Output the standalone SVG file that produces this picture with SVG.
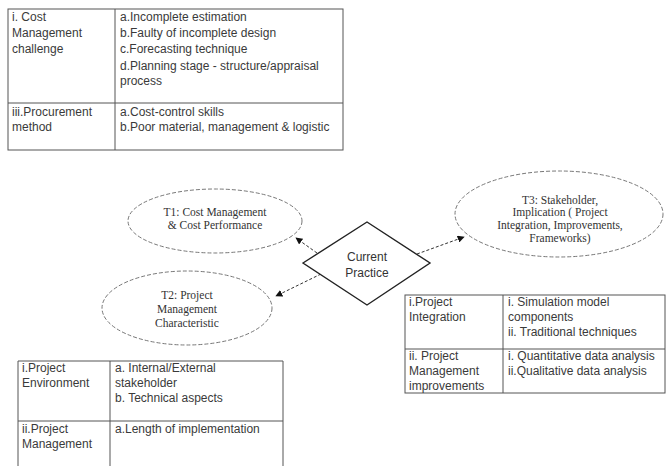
<svg xmlns="http://www.w3.org/2000/svg" width="672" height="466" viewBox="0 0 672 466">
  <defs>
    <marker id="arr" viewBox="0 0 10 10" refX="9" refY="5" markerWidth="7" markerHeight="7" orient="auto" markerUnits="userSpaceOnUse">
      <path d="M0,0 L10,5 L0,10 z" fill="#111"/>
    </marker>
    <style>
      .tbl { fill: none; stroke: #555; stroke-width: 1; }
      .tline { stroke: #555; stroke-width: 1; }
      .t { font-family: "Liberation Sans", Arial, sans-serif; font-size: 12px; fill: #3a3a3a; }
      .s { font-family: "Liberation Serif", "Times New Roman", serif; font-size: 11.5px; fill: #333; text-anchor: middle; }
      .ell { fill: #fff; stroke: #777; stroke-width: 1; stroke-dasharray: 4 2; }
      .dia { fill: #fff; stroke: #222; stroke-width: 1.4; }
      .conn { stroke: #333; stroke-width: 1; stroke-dasharray: 3 2; fill: none; }
      .c { font-family: "Liberation Sans", Arial, sans-serif; font-size: 12px; fill: #333; text-anchor: middle; }
    </style>
  </defs>
  <rect width="672" height="466" fill="#fff"/>

  <g id="table-cost">
    <rect class="tbl" x="8" y="9" width="335" height="141"/>
    <line class="tline" x1="115" y1="9" x2="115" y2="150"/>
    <line class="tline" x1="8" y1="103" x2="343" y2="103"/>
    <text class="t" x="12" y="21">i. Cost</text>
    <text class="t" x="12" y="37">Management</text>
    <text class="t" x="12" y="53">challenge</text>
    <text class="t" x="120" y="21">a.Incomplete estimation</text>
    <text class="t" x="120" y="37">b.Faulty of incomplete design</text>
    <text class="t" x="120" y="53">c.Forecasting technique</text>
    <text class="t" x="120" y="70">d.Planning stage - structure/appraisal</text>
    <text class="t" x="120" y="85">process</text>
    <text class="t" x="12" y="116">iii.Procurement</text>
    <text class="t" x="12" y="131">method</text>
    <text class="t" x="120" y="116">a.Cost-control skills</text>
    <text class="t" x="120" y="131">b.Poor material, management &amp; logistic</text>
  </g>

  <g id="connectors">
    <line class="conn" x1="317" y1="253" x2="296" y2="238" marker-end="url(#arr)"/>
    <line class="conn" x1="321" y1="274" x2="276" y2="296" marker-end="url(#arr)"/>
    <line class="conn" x1="417" y1="254" x2="464" y2="237" marker-end="url(#arr)"/>
  </g>

  <g id="t1">
    <ellipse class="ell" cx="215" cy="221" rx="87" ry="32"/>
    <text class="s" x="215" y="216">T1: Cost Management</text>
    <text class="s" x="215" y="229">&amp; Cost Performance</text>
  </g>

  <g id="t2">
    <ellipse class="ell" cx="187" cy="308" rx="85" ry="37"/>
    <text class="s" x="187" y="299">T2: Project</text>
    <text class="s" x="187" y="313">Management</text>
    <text class="s" x="187" y="327">Characteristic</text>
  </g>

  <g id="t3">
    <ellipse class="ell" cx="559" cy="214" rx="104" ry="43"/>
    <text class="s" x="560" y="204">T3: Stakeholder,</text>
    <text class="s" x="560" y="216">Implication ( Project</text>
    <text class="s" x="560" y="229">Integration, Improvements,</text>
    <text class="s" x="560" y="242">Frameworks)</text>
  </g>

  <g id="current-practice">
    <polygon class="dia" points="303,263 367,222 430,263 367,305"/>
    <text class="c" x="367" y="261">Current</text>
    <text class="c" x="367" y="277">Practice</text>
  </g>

  <g id="table-t3">
    <rect class="tbl" x="405" y="295" width="260" height="98"/>
    <line class="tline" x1="503" y1="295" x2="503" y2="393"/>
    <line class="tline" x1="405" y1="349" x2="665" y2="349"/>
    <text class="t" x="409" y="306">i.Project</text>
    <text class="t" x="409" y="321">Integration</text>
    <text class="t" x="508" y="306">i. Simulation model</text>
    <text class="t" x="508" y="321">components</text>
    <text class="t" x="508" y="336">ii. Traditional techniques</text>
    <text class="t" x="409" y="360">ii. Project</text>
    <text class="t" x="409" y="375">Management</text>
    <text class="t" x="409" y="390">improvements</text>
    <text class="t" x="508" y="360">i. Quantitative data analysis</text>
    <text class="t" x="508" y="375">ii.Qualitative data analysis</text>
  </g>

  <g id="table-t2">
    <line class="tline" x1="18" y1="361" x2="283" y2="361"/>
    <line class="tline" x1="18" y1="361" x2="18" y2="466"/>
    <line class="tline" x1="110" y1="361" x2="110" y2="466"/>
    <line class="tline" x1="283" y1="361" x2="283" y2="466"/>
    <line class="tline" x1="18" y1="421" x2="283" y2="421"/>
    <text class="t" x="22" y="372">i.Project</text>
    <text class="t" x="22" y="387">Environment</text>
    <text class="t" x="115" y="372">a. Internal/External</text>
    <text class="t" x="115" y="387">stakeholder</text>
    <text class="t" x="115" y="402">b. Technical aspects</text>
    <text class="t" x="22" y="433">ii.Project</text>
    <text class="t" x="22" y="448">Management</text>
    <text class="t" x="115" y="433">a.Length of implementation</text>
  </g>
</svg>
